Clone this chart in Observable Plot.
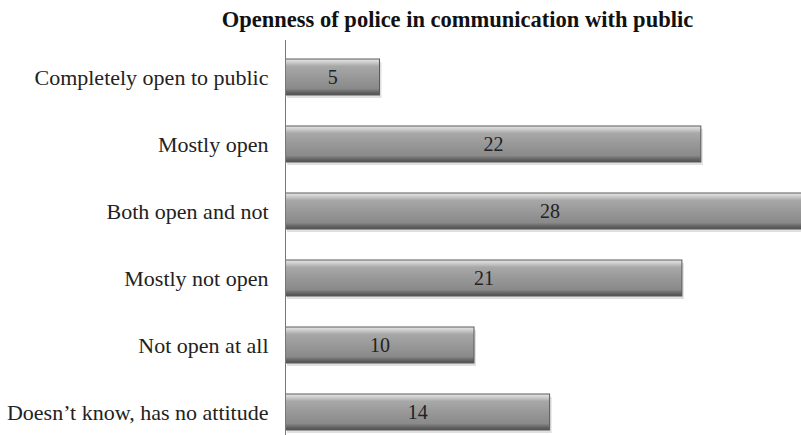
<!DOCTYPE html>
<html><head><meta charset="utf-8">
<script src="https://cdn.jsdelivr.net/npm/d3@7"></script>
<script src="https://cdn.jsdelivr.net/npm/@observablehq/plot@0.6"></script>
<style>
body{margin:0;background:#fff;width:801px;height:435px;overflow:hidden;}
#title{height:40px;line-height:40px;font-family:"Liberation Serif","Times New Roman",serif;font-weight:bold;font-size:22.5px;color:#111;text-align:center;padding-left:114px;box-sizing:border-box;width:801px;}
</style></head><body>
<div id="title">Openness of police in communication with public</div>
<div id="chart"></div>
<script>
const categories = ["Completely open to public","Mostly open","Both open and not","Mostly not open","Not open at all","Doesn\u2019t know, has no attitude"];
const values = [5,22,28,21,10,14];
const data = categories.map((c,i)=>({category:c,value:values[i]}));

const plot = Plot.plot({
  width: 801, height: 395,
  marginLeft: 285, marginRight: 0, marginTop: 0, marginBottom: 0,
  style:{fontFamily:'"Liberation Serif","Times New Roman",serif', fontSize:"22px", color:"#222", background:"#fff", overflow:"hidden"},
  x:{domain:[0,27.3], axis:null},
  y:{domain:categories, range:[1,407], paddingInner:0.47, paddingOuter:0.235, label:null},
  marks:[
    Plot.barX(data,{x:"value", y:"category", fill:"#000", fillOpacity:0.12, dy:3, dx:2, clip:true}),
    Plot.barX(data,{x:"value", y:"category", fill:"url(#bevelGrad)", stroke:"#5a5a5a", strokeWidth:1, clip:true}),
    Plot.text(data,{x:d=>d.value/2, y:"category", text:d=>String(d.value), fontSize:20, fill:"#222"}),
    Plot.ruleX([0],{stroke:"#777", strokeWidth:1}),
    Plot.axisY({tickSize:0, tickPadding:17, fontSize:22, label:null})
  ]
});
const ns="http://www.w3.org/2000/svg";
const defs=document.createElementNS(ns,"defs");
const g=document.createElementNS(ns,"linearGradient");
g.setAttribute("id","bevelGrad");g.setAttribute("x1","0");g.setAttribute("y1","0");g.setAttribute("x2","0");g.setAttribute("y2","1");
[["0","#e6e6e6"],["0.1","#cacaca"],["0.2","#a8a8a8"],["0.55","#969696"],["0.82","#8a8a8a"],["0.9","#6c6c6c"],["1","#4e4e4e"]].forEach(([o,c])=>{
  const s=document.createElementNS(ns,"stop");s.setAttribute("offset",o);s.setAttribute("stop-color",c);g.appendChild(s);
});
defs.appendChild(g);plot.insertBefore(defs,plot.firstChild);
document.getElementById("chart").appendChild(plot);
</script>
</body></html>
